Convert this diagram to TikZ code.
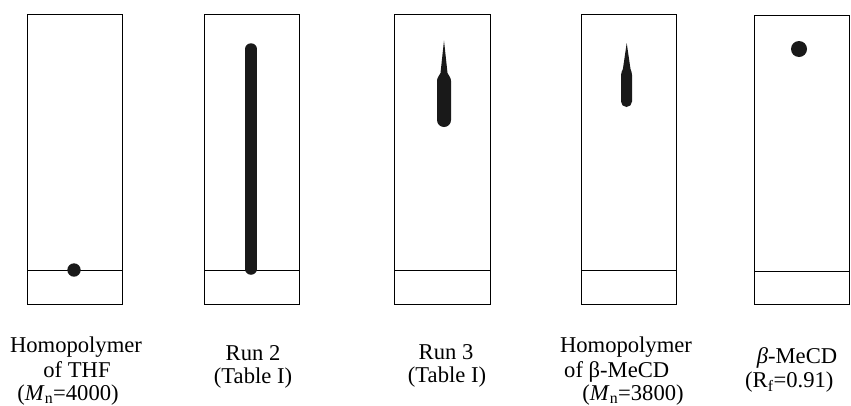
\documentclass[tikz,border=0pt]{standalone}
\usepackage{fontspec}
\setmainfont{Liberation Serif}
\begin{document}
\begin{tikzpicture}[x=1pt,y=-1pt,
  plate/.style={draw=black,line width=0.9pt},
  spot/.style={fill=black!90,draw=none},
  lab/.style={inner sep=0pt,anchor=base,font=\fontsize{22.6}{25}\selectfont}]
\useasboundingbox (0,0) rectangle (851,405);
% plates
\draw[plate] (27,14) rectangle (122,304);
\draw[plate] (27,270) -- (122,270);
\draw[plate] (204,14) rectangle (299,304);
\draw[plate] (204,270) -- (299,270);
\draw[plate] (394,14) rectangle (490,304);
\draw[plate] (394,270) -- (490,270);
\draw[plate] (581,14) rectangle (676,304);
\draw[plate] (581,270) -- (676,270);
\draw[plate] (754,15) rectangle (849,304);
\draw[plate] (754,271) -- (849,271);
% spots
\fill[spot] (74,270) circle (6.7);
\draw[line width=11.5pt,line cap=round,black!90] (251,49) -- (251,269);
\fill[spot] (444,40.5) -- (447.5,73) .. controls (448.5,76) and (451,77) .. (451,81) -- (451,120)
  arc[start angle=0,end angle=180,radius=7] -- (437,81)
  .. controls (437,77) and (439.5,76) .. (440.5,73) -- cycle;
\fill[spot] (626.7,43) -- (630.5,69) .. controls (631,71) and (632,72) .. (632,75) -- (632,101.5)
  arc[start angle=0,end angle=180,radius=5.5] -- (621,75)
  .. controls (621,72) and (622.4,71) .. (622.9,69) -- cycle;
\fill[spot] (799,49) circle (8);
% labels
\node[lab] (l1a) at (76,352) {Homopolymer};
\node[lab] (l1b) at (77,377) {of THF};
\node[lab] (l1c) at (68,400) {(\textit{M}\textsubscript{n}=4000)};
\node[lab] (l2a) at (253,360) {Run 2};
\node[lab] (l2b) at (253,383) {(Table I)};
\node[lab] (l3a) at (446,359) {Run 3};
\node[lab] (l3b) at (447,382) {(Table I)};
\node[lab] (l4a) at (626,352) {Homopolymer};
\node[lab,anchor=base west] (l4b) at (564,377) {of β-MeCD};
\node[lab] (l4c) at (633,400) {(\textit{M}\textsubscript{n}=3800)};
\node[lab] (l5a) at (797,363) {\textit{β}-MeCD};
\node[lab,anchor=base west] (l5b) at (745,387) {(R\textsubscript{f}=0.91)};
\end{tikzpicture}
\end{document}
